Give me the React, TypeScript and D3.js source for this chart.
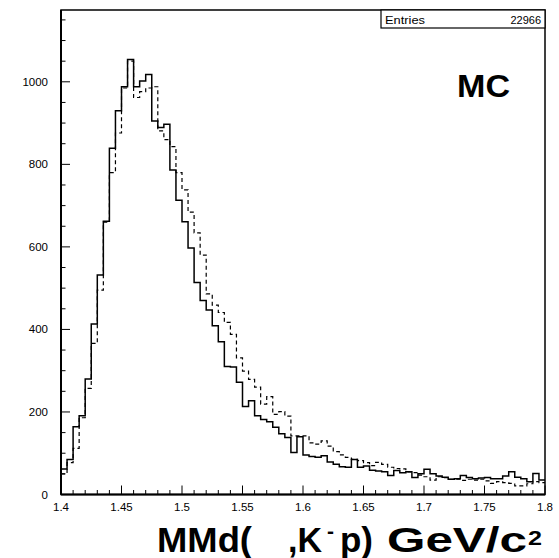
import React from "react";
import * as d3 from "d3";

const xMin = 1.4;
const xMax = 1.8;
const binWidth = 0.005;
const yMaxAxis = 1174;
const entries = 22966;

const solidCounts = [
  62, 85, 164, 191, 280, 413, 532, 662, 839, 930,
  988, 1054, 988, 1002, 1018, 905, 889, 897, 786, 713,
  661, 597, 514, 470, 447, 409, 370, 310, 309, 272,
  213, 227, 191, 182, 176, 163, 147, 138, 102, 140,
  96, 92, 90, 94, 79, 73, 67, 66, 85, 66,
  69, 59, 57, 55, 46, 58, 53, 55, 41, 50,
  61, 50, 45, 42, 37, 38, 46, 41, 38, 40,
  41, 38, 38, 45, 55, 42, 38, 31, 51, 35,
];

const dashedCounts = [
  50, 77, 112, 186, 257, 366, 495, 660, 780, 876,
  985, 1050, 962, 976, 985, 988, 881, 860, 843, 780,
  738, 684, 634, 580, 486, 459, 441, 417, 388, 331,
  299, 279, 260, 219, 237, 194, 201, 190, 142, 142,
  142, 125, 122, 130, 117, 104, 96, 90, 85, 82,
  77, 70, 78, 73, 66, 63, 62, 55, 53, 47,
  43, 35, 43, 41, 37, 37, 34, 37, 35, 37,
  33, 27, 31, 29, 27, 21, 21, 26, 31, 29,
];

const xTickLabels = ["1.4", "1.45", "1.5", "1.55", "1.6", "1.65", "1.7", "1.75", "1.8"];
const yTickLabels = ["0", "200", "400", "600", "800", "1000"];

const W = 559;
const H = 558;
const L = 61;
const R = 545;
const T = 10;
const B = 494.5;

const FONT = "'Liberation Sans', Arial, Helvetica, sans-serif";

function stepPath(counts: number[], x: d3.ScaleLinear<number, number>, y: d3.ScaleLinear<number, number>) {
  const pts: [number, number][] = counts.map((c, i) => [xMin + i * binWidth, c]);
  pts.push([xMin + counts.length * binWidth, counts[counts.length - 1]]);
  const line = d3
    .line<[number, number]>()
    .x((d) => x(d[0]))
    .y((d) => y(d[1]))
    .curve(d3.curveStepAfter);
  return line(pts) || "";
}

export default function App() {
  const x = d3.scaleLinear().domain([xMin, xMax]).range([L, R]);
  const y = d3.scaleLinear().domain([0, yMaxAxis]).range([B, T]);

  const xMinor = d3.range(0, 41).map((i) => xMin + i * 0.01);
  const xMajor = xTickLabels.map((s) => +s);
  const yMinor = d3.range(0, 24).map((i) => i * 50);
  const yMajor = yTickLabels.map((s) => +s);

  return (
    <svg
      width={W}
      height={H}
      style={{ position: "absolute", left: 0, top: 0, background: "#fff" }}
      fontFamily={FONT}
    >
      <rect x={0} y={0} width={W} height={H} fill="#fff" />
      {/* histograms */}
      <path d={stepPath(dashedCounts, x, y)} fill="none" stroke="#000" strokeWidth={1.2} strokeDasharray="4,3" />
      <path d={stepPath(solidCounts, x, y)} fill="none" stroke="#000" strokeWidth={1.5} />

      {/* frame */}
      <rect x={L} y={T} width={R - L} height={B - T} fill="none" stroke="#000" strokeWidth={1.5} />
      <line x1={L} x2={L} y1={T} y2={B} stroke="#000" strokeWidth={2} />
      <line x1={L} x2={R} y1={B} y2={B} stroke="#000" strokeWidth={2} />

      {/* x ticks */}
      {xMinor.map((v, i) => {
        const isMajor = i % 5 === 0;
        return (
          <line
            key={"xt" + i}
            x1={x(v)}
            x2={x(v)}
            y1={B}
            y2={B - (isMajor ? 9 : 4.5)}
            stroke="#000"
            strokeWidth={1}
          />
        );
      })}
      {xMajor.map((v, i) => (
        <text key={"xl" + i} x={x(v)} y={511} fontSize={11.5} textAnchor="middle" fill="#000">
          {xTickLabels[i]}
        </text>
      ))}

      {/* y ticks */}
      {yMinor.map((v, i) => {
        const isMajor = i % 4 === 0;
        return (
          <line
            key={"yt" + i}
            x1={L}
            x2={L + (isMajor ? 9 : 4.5)}
            y1={y(v)}
            y2={y(v)}
            stroke="#000"
            strokeWidth={1}
          />
        );
      })}
      {yMajor.map((v, i) => (
        <text
          key={"yl" + i}
          x={48}
          y={y(v)}
          fontSize={11.5}
          textAnchor="end"
          dominantBaseline="central"
          fill="#000"
        >
          {yTickLabels[i]}
        </text>
      ))}

      {/* stats box */}
      <rect x={381} y={T} width={R - 381} height={18} fill="#fff" stroke="#000" strokeWidth={1.2} />
      <text x={385} y={24} fontSize={11} fill="#000" textLength={40} lengthAdjust="spacingAndGlyphs">
        Entries
      </text>
      <text x={541} y={24} fontSize={11} fill="#000" textAnchor="end">
        {String(entries)}
      </text>

      {/* MC label */}
      <text x={457} y={97} fontSize={31} fontWeight="bold" fill="#000" textLength={53} lengthAdjust="spacingAndGlyphs">
        MC
      </text>

      {/* axis title */}
      <g fontWeight="bold" fill="#000">
        <text x={157} y={552} fontSize={35} textLength={95} lengthAdjust="spacingAndGlyphs">MMd(</text>
        <text x={288} y={552} fontSize={35} textLength={34} lengthAdjust="spacingAndGlyphs">,K</text>
        <text x={327} y={538} fontSize={20} textLength={7} lengthAdjust="spacingAndGlyphs">-</text>
        <text x={340} y={552} fontSize={35} textLength={33} lengthAdjust="spacingAndGlyphs">p)</text>
        <text x={387} y={552} fontSize={35} textLength={140} lengthAdjust="spacingAndGlyphs">GeV/c</text>
        <text x={528} y={545} fontSize={21} textLength={14} lengthAdjust="spacingAndGlyphs">2</text>
      </g>
    </svg>
  );
}
